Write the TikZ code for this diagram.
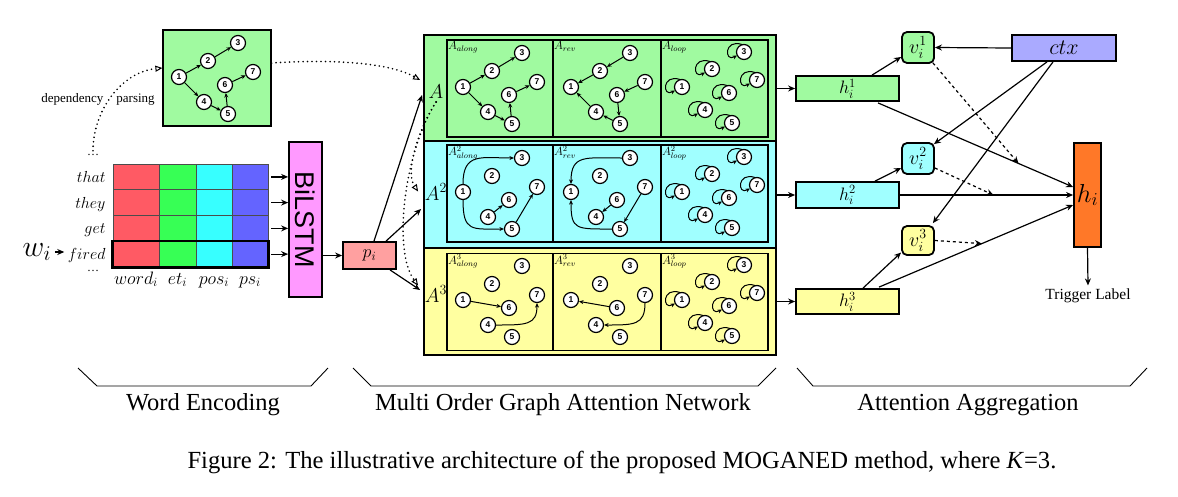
\RequirePackage{fix-cm}
\documentclass[tikz,border=0pt]{standalone}
\usepackage{fontspec}
\setmainfont{Liberation Serif}
\setsansfont{Liberation Sans}
\usetikzlibrary{arrows.meta,calc}
\definecolor{pgreen}{RGB}{160,250,160}
\definecolor{pcyan}{RGB}{160,255,255}
\definecolor{pyellow}{RGB}{255,255,160}
\definecolor{wred}{RGB}{255,90,100}
\definecolor{wgreen}{RGB}{55,255,85}
\definecolor{wcyan}{RGB}{55,255,255}
\definecolor{wblue}{RGB}{100,100,255}
\definecolor{bpink}{RGB}{255,153,255}
\definecolor{psalmon}{RGB}{255,160,160}
\definecolor{ctxc}{RGB}{170,170,255}
\definecolor{horange}{RGB}{255,120,40}
\newcommand\myfs[1]{\fontsize{#1}{#1}\selectfont}
\newcommand\gnodes[3]{%
 \begin{scope}[shift={(#2,#3)}]
 \node[gn] (#1-1) at (16,47) {1};
 \node[gn] (#1-2) at (45,31) {2};
 \node[gn] (#1-3) at (75,13) {3};
 \node[gn] (#1-4) at (41,72) {4};
 \node[gn] (#1-5) at (65,84) {5};
 \node[gn] (#1-6) at (62,55) {6};
 \node[gn] (#1-7) at (90,42) {7};
 \end{scope}}
\newcommand\lnodes[3]{%
 \begin{scope}[shift={(#2,#3)}]
 \node[gn] (#1-1) at (21,47) {1};
 \node[gn] (#1-2) at (51,29) {2};
 \node[gn] (#1-3) at (83,12) {3};
 \node[gn] (#1-4) at (44,70) {4};
 \node[gn] (#1-5) at (71,83) {5};
 \node[gn] (#1-6) at (68,53) {6};
 \node[gn] (#1-7) at (96,40) {7};
 \end{scope}
 \foreach \k in {1,...,7}{\draw[ga] ($(#1-\k)+(-2,-7.5)$) .. controls +(-18,-6) and +(-13,7) .. ($(#1-\k)+(-7,3.5)$);}}
\begin{document}
\begin{tikzpicture}[x=1pt,y=-1pt,
  gn/.style={circle, draw, line width=1.2pt, fill=white, minimum size=15, inner sep=0, font=\sffamily\bfseries\myfs{8.5}},
  ga/.style={-{Stealth[length=4.5pt,width=4pt]}, line width=1pt},
  box/.style={draw, line width=1.8pt, inner sep=0},
  subbox/.style={draw, line width=1.4pt, inner sep=0, minimum height=97},
  cell/.style={draw=black!70, line width=0.9pt, inner sep=0},
  arr/.style={-{Stealth[length=7pt,width=6pt]}, line width=1.2pt},
  dotarr/.style={line width=1.8pt, line cap=round, dash pattern=on 0pt off 4.5pt, -{Triangle[open,length=7pt,width=6pt,line width=1pt]}},
  sublab/.style={anchor=north west, inner sep=1.5, font=\myfs{12}}]
\useasboundingbox (0,0) rectangle (1178,496);

% ---------------- dependency graph
\node[box, fill=pgreen, line width=1.2pt, minimum width=108, minimum height=96] (dep) at (217,78) {};
\gnodes{d}{163}{30}
\draw[ga] (d-1)--(d-2); \draw[ga] (d-2)--(d-3); \draw[ga] (d-1)--(d-4);
\draw[ga] (d-4)--(d-5); \draw[ga] (d-5)--(d-6); \draw[ga] (d-6)--(d-7);
\node[font=\myfs{13}] (dp) at (98,99) {dependency\hspace{1em}parsing};

% ---------------- word table
\foreach \r/\y in {1/176.9,2/202.6,3/228.4,4/254.1}{
  \foreach \c/\x/\w/\col in {1/136/46/wred,2/177.5/37/wgreen,3/214/36/wcyan,4/250/36/wblue}{
    \node[cell, fill=\col, minimum width=\w, minimum height=25.75] (c\r\c) at (\x,\y) {};
  }
}
\draw[line width=2.4pt] (c41.north west) rectangle (c44.south east);
\node[anchor=base east, font=\myfs{16}] (t1) at (109,182) {$that$};
\node[anchor=base east, font=\myfs{16}] (t2) at (109,208) {$they$};
\node[anchor=base east, font=\myfs{16}] (t3) at (109,233) {$get$};
\node[anchor=base east, font=\myfs{16}] (t4) at (109,259) {$fired$};
\node[font=\myfs{12}] (dt1) at (93,155) {\ldots};
\node[font=\myfs{12}] (dt2) at (93,271) {\ldots};
\node[font=\myfs{30}] (wi) at (37,252) {$w_i$};
\draw[arr] (wi.east) -- (t4.west |- wi.east);
\foreach \x/\t in {136/word_i,177.5/et_i,214/pos_i,250/ps_i}{
  \node[anchor=base, font=\myfs{18}] at (\x,284) {$\t$};
}
\draw[dotarr] (dt1.north) .. controls (93,110) and (122,72) .. ($(dep.west)+(0,-10)$);

% ---------------- BiLSTM and p_i
\node[box, fill=bpink, minimum width=33, minimum height=155] (bil) at (305.5,219.5) {};
\node[rotate=-90, font=\sffamily\myfs{27}] at (bil.center) {BiLSTM};
\foreach \r in {1,2,3,4}{
  \draw[arr] ($(c\r4.east)+(3,0)$) -- (c\r4.east -| bil.west);
}
\node[box, fill=psalmon, minimum width=53, minimum height=27, font=\myfs{18}] (pi) at (369.5,255.5) {$p_i$};
\draw[arr] (bil.east |- pi.west) -- (pi.west);

% ---------------- panels
\node[box, fill=pgreen, minimum width=352, minimum height=106] (P1) at (600,88) {};
\node[box, fill=pcyan, minimum width=352, minimum height=107] (P2) at (600,194.5) {};
\node[box, fill=pyellow, minimum width=352, minimum height=107] (P3) at (600,301.5) {};

\foreach \rr/\yy/\col in {1/88.5/pgreen,2/193.5/pcyan,3/302/pyellow}{
  \node[subbox, fill=\col, minimum width=106] (S\rr1) at (500,\yy) {};
  \node[subbox, fill=\col, minimum width=108] (S\rr2) at (607,\yy) {};
  \node[subbox, fill=\col, minimum width=107] (S\rr3) at (714.5,\yy) {};
}
\node[font=\myfs{20}, inner sep=0] (lA1) at (436,92) {$A$};
\node[font=\myfs{20}, inner sep=0] (lA2) at (436,192) {$A^2$};
\node[font=\myfs{20}, inner sep=0] (lA3) at (436,294) {$A^3$};
\node[sublab] at (S11.north west) {$A_{along}$};
\node[sublab] at (S12.north west) {$A_{rev}$};
\node[sublab] at (S13.north west) {$A_{loop}$};
\node[sublab] at (S21.north west) {$A^2_{along}$};
\node[sublab] at (S22.north west) {$A^2_{rev}$};
\node[sublab] at (S23.north west) {$A^2_{loop}$};
\node[sublab] at (S31.north west) {$A^3_{along}$};
\node[sublab] at (S32.north west) {$A^3_{rev}$};
\node[sublab] at (S33.north west) {$A^3_{loop}$};

% green row
\gnodes{g1}{447}{40}
\draw[ga] (g1-1)--(g1-2); \draw[ga] (g1-2)--(g1-3); \draw[ga] (g1-1)--(g1-4);
\draw[ga] (g1-4)--(g1-5); \draw[ga] (g1-5)--(g1-6); \draw[ga] (g1-6)--(g1-7);
\gnodes{g2}{555}{40}
\draw[ga] (g2-3)--(g2-2); \draw[ga] (g2-2)--(g2-1); \draw[ga] (g2-4)--(g2-1);
\draw[ga] (g2-5)--(g2-4); \draw[ga] (g2-7)--(g2-6); \draw[ga] (g2-6)--(g2-5);
\lnodes{g3}{661}{40}
% cyan row
\gnodes{c1}{447}{145}
\draw[ga] (c1-1.north) .. controls +(0,-32) and +(-32,0) .. (c1-3.west);
\draw[ga] (c1-1.south) .. controls +(0,32) and +(-32,0) .. (c1-5.west);
\draw[ga] (c1-4)--(c1-6); \draw[ga] (c1-5)--(c1-7);
\gnodes{c2}{555}{145}
\draw[ga] (c2-3.west) .. controls +(-36,0) and +(0,-30) .. (c2-1.north);
\draw[ga] (c2-5.west) .. controls +(-36,0) and +(0,30) .. (c2-1.south);
\draw[ga] (c2-6)--(c2-4); \draw[ga] (c2-7)--(c2-5);
\lnodes{c3}{661}{145}
% yellow row
\gnodes{y1}{447}{253}
\draw[ga] (y1-1)--(y1-6);
\draw[ga] (y1-4.east) .. controls +(30,0) and +(0,22) .. (y1-7.south);
\gnodes{y2}{555}{253}
\draw[ga] (y2-6)--(y2-1);
\draw[ga] (y2-7.south) .. controls +(0,22) and +(30,0) .. (y2-4.east);
\lnodes{y3}{661}{253}

% arrows into panels
\coordinate (inA1) at ($(P1.west)+(-1,7)$);
\coordinate (inA2) at ($(P2.west)+(-2,14.5)$);
\coordinate (inA3) at ($(P3.west)+(-3,-11.5)$);
\coordinate (dA) at ($(P1.west)+(13,14)$);
\draw[arr] ($(pi.north)+(4.5,0)$) -- (inA1);
\draw[arr] ($(pi.north)+(16.5,0)$) -- (inA2);
\draw[arr] ($(pi.south)+(20.5,0)$) -- (inA3);
\draw[dotarr] ($(dep.east)+(0,-15)$) .. controls (350,58) and (395,66) .. ($(P1.west)+(-3,-8)$);
\draw[dotarr] (dA) .. controls (418,130) and (405,172) .. ($(P2.west)+(-5,-3)$);
\draw[dotarr] (dA) .. controls (405,150) and (392,250) .. ($(P3.west)+(-5,-16)$);

% ---------------- aggregation
\node[box, fill=pgreen, minimum width=103, minimum height=25, font=\myfs{18}] (H1) at (847.5,88.5) {$h_i^1$};
\node[box, fill=pcyan, minimum width=103, minimum height=26, font=\myfs{18}] (H2) at (847.5,195) {$h_i^2$};
\node[box, fill=pyellow, minimum width=103, minimum height=25, font=\myfs{18}] (H3) at (847.5,301.5) {$h_i^3$};
\node[box, rounded corners=5, fill=pgreen, minimum width=32, minimum height=31, font=\myfs{20}] (V1) at (918,47.5) {$v_i^1$};
\node[box, rounded corners=5, fill=pcyan, minimum width=32, minimum height=31, font=\myfs{20}] (V2) at (918,158.5) {$v_i^2$};
\node[box, rounded corners=5, fill=pyellow, minimum width=32, minimum height=29, font=\myfs{20}] (V3) at (918,240.5) {$v_i^3$};
\node[box, fill=ctxc, minimum width=104, minimum height=26, font=\myfs{22}] (CTX) at (1064,48) {$ctx$};
\node[box, fill=horange, minimum width=27, minimum height=104, font=\myfs{26}] (HI) at (1087.5,195) {$h_i$};
\node[font=\myfs{15.5}] (trig) at (1088,296) {Trigger Label};

\draw[arr] (P1.east |- H1.west) -- (H1.west);
\draw[arr] (P2.east |- H2.west) -- (H2.west);
\draw[arr] (P3.east |- H3.west) -- (H3.west);
\draw[arr] ($(H1.north)+(24.5,0)$) -- ($(V1.west)+(0,9.5)$);
\draw[arr] ($(H2.north)+(27.5,0)$) -- ($(V2.west)+(0,9.5)$);
\draw[arr] ($(H3.north)+(15.5,0)$) -- ($(V3.west)+(0,12)$);
\draw[arr] (CTX.west) -- (V1.east);
\draw[arr] ($(CTX.south)+(-17,0)$) -- ($(V2.north east)+(-1,2)$);
\draw[arr] ($(CTX.south)+(-11,0)$) -- ($(V3.north east)+(-2,-2)$);
\coordinate (s1) at ($(H1.south)+(30.5,1)$);
\coordinate (e1) at ($(HI.west)+(0,-8)$);
\coordinate (s3) at ($(H3.north)+(31.5,-1)$);
\coordinate (e3) at ($(HI.west)+(0,10)$);
\draw[arr] (s1) -- (e1);
\draw[arr] (H2.east) -- (HI.west);
\draw[arr] (s3) -- (e3);
\draw[arr, dashed] ($(V1.south east)+(-2,-1)$) -- ($(s1)!0.72!(e1)$);
\draw[arr, dashed] ($(V2.east)+(0,9.5)$) -- ($(H2.east)!0.54!(HI.west)$);
\draw[arr, dashed] (V3.east) -- ($(s3)!0.53!(e3)$);
\draw[arr] (HI.south) -- (trig.north);

% ---------------- braces and captions
\draw[line width=0.9pt] (78,368) -- (97,386) -- (311,386) -- (328,368);
\draw[line width=0.9pt] (353,368) -- (371,386) -- (758,386) -- (776,368);
\draw[line width=0.9pt] (797,368) -- (813,386) -- (1130,386) -- (1147,368);
\node[font=\myfs{24.5}] (L1) at (203,405) {Word Encoding};
\node[font=\myfs{24.5}] (L2) at (563,405) {Multi Order Graph Attention Network};
\node[font=\myfs{24.5}] (L3) at (968,405) {Attention Aggregation};
\node[font=\myfs{24.6}] (cap) at (622,462) {Figure 2: The illustrative architecture of the proposed MOGANED method, where \textit{K}=3.};
\end{tikzpicture}
\end{document}
